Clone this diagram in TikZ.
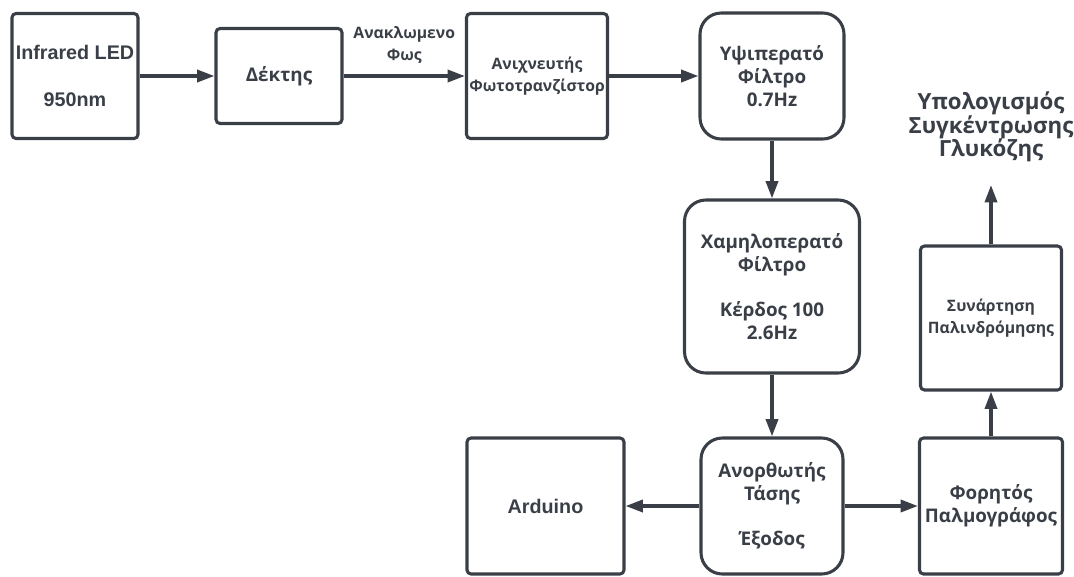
\documentclass[tikz,border=0pt]{standalone}
\usepackage{fontspec}
\setmainfont{Liberation Sans}
\newfontfamily\grk{Open Sans}
\usetikzlibrary{arrows.meta}
\definecolor{ink}{HTML}{3A3F47}

\begin{document}
\begin{tikzpicture}[x=0.75pt, y=-0.75pt,
    box/.style={draw=ink, line width=2.3pt, rounded corners=3pt, text=ink, align=center, inner sep=0pt},
    rbox/.style={box, rounded corners=16pt},
    arr/.style={draw=ink, line width=2.6pt, -{Triangle[length=13pt, width=9pt]}},
    latn/.style={font=\bfseries\fontsize{14.8}{17.5}\selectfont},
    grkm/.style={font=\grk\bfseries\fontsize{14.1}{17}\selectfont},
    grks/.style={font=\grk\bfseries\fontsize{11.8}{16}\selectfont},
    grkl/.style={font=\grk\bfseries\fontsize{16.7}{17.5}\selectfont}]
    \useasboundingbox (0,0) rectangle (1074,576);

    % 上段の信号経路
    \node[box, latn, minimum width=94.5pt, minimum height=93.75pt] (led) at (75,76) {Infrared LED\\[17.5pt]950nm};
    \node[box, grkm, minimum width=94.5pt, minimum height=71.25pt] (dektis) at (279,76) {Δέκτης};
    \node[box, grks, minimum width=105.75pt, minimum height=93.75pt] (anix) at (537,76) {Ανιχνευτής\\Φωτοτρανζίστορ};
    \node[rbox, grkm, minimum width=108pt, minimum height=94.5pt] (ypsi) at (772,76) {Υψιπερατό\\Φίλτρο\\0.7Hz};

    % フィルタと整流
    \node[rbox, grkm, minimum width=131.25pt, minimum height=129.75pt] (xamil) at (772,286.5) {Χαμηλοπερατό\\Φίλτρο\\[17pt]Κέρδος 100\\2.6Hz};
    \node[rbox, grkm, minimum width=106.5pt, minimum height=102pt] (anor) at (772,506) {Ανορθωτής\\Τάσης\\[17pt]Έξοδος};

    % 出力側
    \node[box, latn, minimum width=117.75pt, minimum height=102pt] (ard) at (545.5,506) {Arduino};
    \node[box, grkm, minimum width=107.25pt, minimum height=102pt] (forit) at (991,506) {Φορητός\\Παλμογράφος};
    \node[box, grks, minimum width=105.75pt, minimum height=108pt] (synart) at (991,318) {Συνάρτηση\\Παλινδρόμησης};
    \node[grkl, text=ink, align=center] (titlos) at (991,127) {Υπολογισμός\\Συγκέντρωσης\\Γλυκόζης};
    \coordinate (tip) at (991,185);

    % 矢印
    \draw[arr] (led) -- (dektis);
    \draw[arr] (dektis) -- node[grks, text=ink, align=center, above=5pt] (fos) {Ανακλωμενο\\Φως} (anix);
    \draw[arr] (anix) -- (ypsi);
    \draw[arr] (ypsi) -- (xamil);
    \draw[arr] (xamil) -- (anor);
    \draw[arr] (anor) -- (ard);
    \draw[arr] (anor) -- (forit);
    \draw[arr] (forit) -- (synart);
    \draw[arr] (synart) -- (tip);
\end{tikzpicture}
\end{document}
